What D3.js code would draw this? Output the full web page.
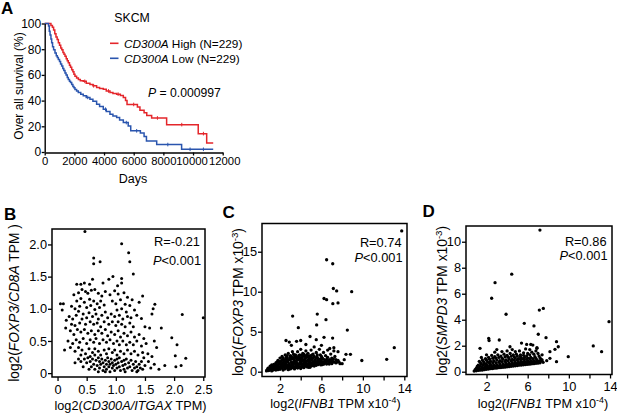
<!DOCTYPE html>
<html>
<head>
<meta charset="utf-8">
<script src="https://cdnjs.cloudflare.com/ajax/libs/d3/7.8.5/d3.min.js"></script>
<style>
  body { margin: 0; background: #fff; }
  text { font-family: Arial, "Liberation Sans", Helvetica, sans-serif; fill: #000; }
</style>
</head>
<body>
<svg id="fig" width="617" height="413"></svg>
<script>
// ---------- data ----------
var daysTicks = [0, 2000, 4000, 6000, 8000, 10000, 12000];
var survTicks = [0, 20, 40, 60, 80, 100];

// Kaplan-Meier steps [days, % surviving]
var kmHigh = [[0,100],[300,100],[420,98.5],[520,97],[600,95],[680,92],[760,89.5],[840,87.5],[920,85],
  [1000,83],[1080,81],[1150,79.5],[1230,77.5],[1300,76],[1370,74.5],[1450,72.5],[1520,71],[1590,69.5],
  [1670,67.5],[1740,66],[1820,64],[1900,62.5],[1970,60.5],[2040,59],[2150,57.5],[2270,56.5],[2400,55.5],
  [2600,55],[2800,53.5],[3050,52.5],[3250,51.5],[3500,50.2],[3700,49.5],[3950,48.8],[4150,47.5],
  [4400,46.3],[4600,45.5],[4850,45],[5100,44],[5300,42.5],[5450,40],[5550,37],[6250,35],[6420,32.5],
  [6700,30.5],[6880,28.5],[7210,26.5],[8220,21.3],[10350,14.3],[10920,7.1],[11360,7.1]];
var kmLow = [[0,100],[200,100],[260,98],[310,94],[360,91],[420,88],[470,85],[530,82],[600,79.5],
  [694,77],[780,75],[850,73.5],[918,72],[1000,70.5],[1070,68.5],[1145,67],[1220,65],[1290,63.5],
  [1368,61.5],[1440,60],[1520,58],[1590,56.5],[1670,55],[1740,54],[1820,52.5],[1900,51],[1970,50],
  [2040,48.7],[2150,47.5],[2265,46.3],[2430,45],[2600,43.7],[2800,42.5],[3050,41.1],[3250,39.5],
  [3500,37.2],[3700,35.5],[3950,33.3],[4150,31.5],[4400,29.4],[4600,28],[4850,26.8],[5050,25],
  [5300,22.9],[5630,20.3],[5800,16.5],[6450,14.8],[6700,12],[6860,8.5],[7550,5.8],[9230,2.1],[11360,2.1]];
var censorHigh = [2700, 3300, 4300, 4950, 6000, 7600, 9240, 10700];
var censorLow = [2900, 4100, 5500, 6200, 8300, 9800, 10700];

var bTicksX = [0, 0.5, 1, 1.5, 2, 2.5];
var bTicksY = [0, 0.5, 1, 1.5, 2];
var pointsB = [
  [0.47,2.2],[1.10,2.01],[1.22,1.87],[1.24,1.73],[0.62,1.79],[0.73,1.73],[0.62,1.70],[1.30,1.54],[0.88,1.46],
  [0.95,1.50],[1.10,1.47],[1.10,1.40],[0.60,1.46],[0.46,1.40],[0.40,1.38],[0.33,1.38],[0.55,1.38],[0.78,1.40],[1.03,1.36],
  [0.28,1.22],[0.36,1.25],[0.42,1.30],[0.48,1.27],[0.52,1.24],[0.58,1.29],[0.64,1.30],[0.70,1.24],[0.76,1.20],
  [0.82,1.27],[0.90,1.22],[0.98,1.28],[1.04,1.23],[1.14,1.25],[1.20,1.18],[1.28,1.14],[1.46,1.20],[1.40,1.10],
  [0.33,1.12],[0.40,1.16],[0.46,1.10],[0.55,1.15],[0.62,1.12],[0.68,1.08],[0.74,1.12],[0.80,1.06],[0.94,1.12],
  [1.00,1.08],[1.08,1.14],[1.16,1.07],[1.24,1.05],[0.05,1.08],[0.10,1.08],[0.24,1.04],[0.30,1.00],[0.38,1.04],
  [0.50,1.02],[0.57,1.05],[0.64,0.99],[0.72,1.02],[1.02,0.98],[1.10,1.00],[1.18,0.95],[1.32,0.98],[1.67,1.07],
  [1.64,1.00],[1.62,0.92],
  [0.08,0.98],[0.20,0.88],[0.26,0.84],[0.32,0.90],[0.36,0.96],[0.44,0.92],[0.50,0.86],[0.54,0.94],[0.60,0.88],
  [0.66,0.92],[0.70,0.84],[0.76,0.90],[0.82,0.95],[0.86,0.86],[0.92,0.92],[0.98,0.88],[1.06,0.90],[1.12,0.84],
  [1.20,0.88],[1.26,0.86],[1.36,0.90],[1.44,0.85],[0.15,0.82],[0.24,0.76],[0.30,0.74],[0.38,0.78],[0.42,0.84],
  [0.48,0.76],[0.56,0.80],[0.62,0.76],[0.68,0.78],[0.74,0.72],[0.80,0.80],[0.88,0.76],[0.94,0.80],[1.00,0.74],
  [1.04,0.80],[1.10,0.76],[1.16,0.72],[1.24,0.78],[1.30,0.72],[1.50,0.72],[1.58,0.70],[1.78,0.70],[2.14,0.91],[2.50,0.86],
  [0.14,0.70],[0.22,0.66],[0.28,0.60],[0.34,0.68],[0.40,0.64],[0.46,0.68],[0.52,0.62],[0.58,0.66],[0.64,0.60],
  [0.70,0.66],[0.76,0.62],[0.82,0.68],[0.86,0.58],[0.92,0.64],[0.98,0.60],[1.04,0.66],[1.08,0.56],[1.14,0.62],
  [1.20,0.58],[1.26,0.64],[1.32,0.56],[1.40,0.60],[1.48,0.54],[1.66,0.50],[1.96,0.55],[0.18,0.50],[0.26,0.46],
  [0.32,0.52],[0.38,0.48],[0.44,0.54],[0.50,0.46],[0.56,0.52],[0.62,0.48],[0.66,0.54],[0.72,0.46],[0.78,0.52],
  [0.84,0.48],[0.90,0.52],[0.96,0.46],[1.02,0.50],[1.06,0.44],[1.12,0.50],[1.18,0.44],[1.24,0.48],[1.30,0.44],
  [1.36,0.50],[1.44,0.42],[1.52,0.46],[1.70,0.40],[2.05,0.44],[0.12,0.36],[0.22,0.40],
  [0.30,0.34],[0.36,0.40],[0.42,0.36],[0.48,0.30],[0.54,0.38],[0.60,0.32],[0.64,0.38],[0.70,0.34],[0.74,0.28],
  [0.80,0.36],[0.84,0.30],[0.88,0.38],[0.94,0.32],[0.98,0.36],[1.02,0.28],[1.08,0.34],[1.14,0.30],[1.20,0.36],
  [1.26,0.30],[1.32,0.34],[1.38,0.28],[1.46,0.32],[1.55,0.30],[1.62,0.26],[2.02,0.27],[0.40,0.28],[0.56,0.26],
  [0.46,0.22],[0.50,0.16],[0.52,0.24],[0.56,0.18],[0.58,0.10],[0.60,0.22],[0.62,0.14],[0.64,0.06],[0.66,0.20],
  [0.68,0.12],[0.70,0.24],[0.72,0.18],[0.72,0.08],[0.74,0.14],[0.76,0.22],[0.78,0.04],[0.78,0.16],[0.80,0.10],
  [0.82,0.20],[0.84,0.14],[0.84,0.06],[0.86,0.24],[0.88,0.18],[0.88,0.10],[0.90,0.02],[0.90,0.14],[0.92,0.22],
  [0.94,0.08],[0.94,0.16],[0.96,0.12],[0.98,0.20],[0.98,0.04],[1.00,0.14],[1.02,0.22],[1.02,0.08],[1.04,0.16],
  [1.06,0.10],[1.06,0.24],[1.08,0.04],[1.10,0.18],[1.12,0.12],[1.14,0.20],[1.14,0.06],[1.16,0.14],[1.18,0.22],
  [1.20,0.08],[1.22,0.16],[1.24,0.10],[1.26,0.20],[1.28,0.04],[1.30,0.14],[1.32,0.08],[1.34,0.18],[1.36,0.10],
  [1.38,0.04],[1.40,0.14],[1.42,0.08],[1.44,0.18],[1.46,0.06],[1.50,0.12],[1.56,0.18],[1.60,0.08],[1.66,0.14],
  [1.74,0.06],[1.84,0.12],[2.03,0.10],[2.12,0.12],[2.20,0.23],[0.40,0.18],[0.44,0.10],[0.36,0.22],[0.30,0.16],
  [0.54,0.06],[0.64,0.28],[1.16,0.02],[1.36,0.02],[1.48,0.24],[0.82,0.02],[0.70,0.02]
];

var cdTicksX = [2, 4, 6, 8, 10, 12, 14];
var cdTickLabels = ['2', '', '6', '', '10', '', '14'];
var cTicksY = [0, 5, 10, 15];
var pointsC = [
  [13.75,17.6],[6.5,14.0],[7.09,13.5],[7.15,10.4],[7.47,10.1],[8.92,10.0],[6.25,9.15],[6.5,9.0],[7.1,8.5],
  [7.6,8.6],[3.22,6.95],[5.6,7.2],[5.54,5.85],[6.44,6.5],[3.77,5.5],[8.5,5.2],[13.03,3.0],[12.3,1.55],[9.9,1.4],
  [8.8,2.17],[8.37,2.17],[4.9,4.4],[6.25,4.3],[7.08,4.2],[2.58,3.9],[5.5,4.0],[6.0,3.3],[7.2,3.0],[7.6,2.5],
  [8.2,1.5],[7.8,1.0],[8.0,1.0],[7.4,1.5],[6.6,2.7],[5.3,3.1],[4.5,3.4],[3.6,3.8],[3.1,3.3],[4.0,3.9],[2.9,3.7],
  [0.7,0.1],[0.8,0.3],[0.9,0.15],[1.0,0.5],[1.0,0.2],[1.1,0.35],[1.2,0.7],[1.2,0.1],[1.3,0.45],[1.4,0.25],[1.4,0.9],[1.5,0.6],
  [1.6,0.2],[1.6,1.1],[1.7,0.4],[1.7,0.8],[1.8,1.4],[1.8,0.25],[1.9,0.6],[1.9,1.0],[2.0,0.3],[2.0,1.7],[2.1,0.8],
  [2.1,1.3],[2.2,0.45],[2.2,1.9],[2.3,0.2],[2.3,1.1],[2.4,0.7],[2.4,1.5],[2.5,0.35],[2.5,2.1],
  [2.6,0.9],[2.6,1.3],[2.7,0.5],[2.7,1.7],[2.8,0.25],[2.8,2.3],[2.9,1.0],[2.9,0.6],[3.0,1.5],[3.0,0.35],[3.0,2.0],
  [3.1,0.8],[3.1,1.2],[3.2,2.5],[3.2,0.5],[3.3,1.7],[3.3,0.95],[3.4,0.35],[3.4,1.4],[3.5,2.1],[3.5,0.7],
  [3.6,1.1],[3.6,1.8],[3.7,0.45],[3.7,2.5],[3.8,0.9],[3.8,1.5],[3.9,0.6],[3.9,2.1],[4.0,1.2],[4.0,0.4],[4.0,2.8],
  [4.1,1.7],[4.1,0.8],[4.2,2.3],[4.2,1.0],[4.3,0.5],[4.3,1.5],[4.4,2.0],[4.4,0.75],[4.5,1.2],[4.5,2.6],
  [4.6,0.6],[4.6,1.8],[4.7,1.0],[4.7,2.3],[4.8,0.8],[4.8,1.4],[4.9,0.55],[4.9,2.0],[5.0,1.1],[5.0,2.7],[5.1,0.75],
  [5.1,1.6],[5.2,1.2],[5.2,2.2],[5.3,0.7],[5.3,1.9],[5.4,1.0],[5.4,1.5],[5.5,0.8],[5.5,2.4],
  [5.6,1.2],[5.6,1.8],[5.7,0.9],[5.8,1.5],[5.8,2.8],[5.9,1.0],[5.9,2.1],[6.0,1.3],[6.1,0.9],[6.1,1.7],[6.2,2.4],
  [6.3,1.1],[6.3,1.5],[6.4,2.0],[6.5,0.95],[6.5,1.3],
  [6.6,1.8],[6.7,1.1],[6.8,1.5],[6.9,2.2],[7.0,1.0],[7.0,1.7],[7.1,1.3],[7.3,1.9],[7.4,1.1],[7.6,1.4],[7.2,2.6],[6.8,2.9],
  [1.3,0.2],[1.5,0.35],[1.9,0.4],[2.1,0.55],[2.3,0.65],[2.5,0.55],[2.7,0.8],[2.9,0.4],[3.1,0.45],[3.3,0.55],
  [3.5,1.0],[3.7,0.7],[3.9,1.1],[4.1,0.6],[4.3,0.9],[4.5,0.7],[4.7,0.7],[4.9,1.2],[5.1,1.0],[5.3,1.3],[5.5,1.1],
  [5.7,1.4],[6.0,1.1],[6.2,1.2],[2.0,1.2],[2.4,1.0],[2.8,1.4],[3.2,1.6],[3.6,1.4],[4.0,1.6],[4.4,1.4],[4.8,1.7],
  [5.2,1.7],[1.8,0.7],[2.2,1.5],[2.6,1.8],[3.0,1.8],[3.4,2.0],[3.8,2.0],[4.2,1.9],[4.6,2.1],[5.0,1.9],[5.6,2.1],
  [6.0,1.9],[3.2,1.1],[3.6,0.55],[4.4,1.0],[4.8,1.1],
  [0.75,0.2],[0.85,0.45],[0.95,0.3],[1.05,0.7],[1.15,0.5],[1.25,0.3],[1.35,0.65],[1.45,0.45],[1.55,0.8],
  [1.65,0.55],[1.75,0.3],[1.85,0.9],[1.95,1.25],[2.05,0.5],[2.15,1.0],[2.25,0.75],[2.35,1.35],[2.45,0.4],
  [2.55,1.1],[2.65,0.65],[2.75,1.2],[2.85,0.85],[2.95,1.65],[3.05,0.6],[3.15,1.0],[3.25,0.75],[3.35,1.25],
  [3.45,0.55],[3.55,1.2],[3.65,0.85],[3.75,1.7],[3.85,0.6],[3.95,1.35],[4.05,1.0],[4.15,1.4],[4.25,0.7],
  [4.35,1.2],[4.45,1.7],[4.55,0.9],[4.65,1.4],[4.75,0.55],[4.85,1.25],[4.95,0.9],[5.05,1.45],[5.15,0.9],
  [5.25,1.05],[5.35,0.85],[5.45,1.3],[5.55,0.95],[5.65,1.6],[5.75,1.1],[5.85,1.25],[5.95,0.85],[6.05,1.55],
  [6.15,1.05],[6.25,0.95],[6.35,1.3],[6.45,1.2],[6.55,1.6],[6.65,1.35],[6.75,0.95],[6.85,1.2],[6.95,1.4],
  [7.05,1.15],[7.15,1.6],[7.25,1.2],[7.5,1.2],[7.7,1.2],[2.3,1.7],[2.7,2.0],[3.1,1.9],[3.5,1.75],[3.9,1.8],
  [4.3,2.2],[4.7,1.95],[5.1,2.1],[5.5,1.75],[5.9,1.6],[3.3,2.2],[4.1,2.05],[4.9,1.6],[1.2,0.85],[1.7,1.2],[2.6,1.55]
];

var dTicksY = [0, 2, 4, 6, 8, 10];
var pointsD = [
  [7.19,10.9],[4.45,7.5],[2.83,6.85],[2.5,5.65],[3.9,4.42],[7.13,4.74],[7.52,4.87],[5.67,3.72],[6.61,3.52],
  [13.9,3.85],[12.37,1.98],[13.18,1.54],[9.94,1.16],[7.03,2.88],[7.78,2.62],[1.37,1.8],[2.21,2.57],[2.25,2.4],
  [3.24,2.44],[4.28,1.92],[8.8,2.31],[8.97,1.92],[8.65,1.72],[8.16,1.54],[8.16,1.03],[7.85,0.85],[8.8,0.77],
  [5.4,2.2],[5.9,2.1],[6.3,2.1],[6.9,1.8],[4.5,1.7],[7.4,0.9],
  [0.8,0.05],[1.0,0.07],[1.2,0.1],[1.4,0.12],[1.6,0.13],[1.8,0.16],[2.0,0.19],[2.2,0.2],[2.4,0.23],[2.6,0.24],
  [2.8,0.27],[3.0,0.28],[3.2,0.31],[3.4,0.32],[3.6,0.34],[3.8,0.35],[4.0,0.38],[4.2,0.39],[4.4,0.42],[4.6,0.43],
  [4.8,0.46],[5.0,0.47],[5.2,0.5],[5.4,0.51],[5.6,0.53],[5.8,0.55],[6.0,0.57],[6.2,0.58],[6.4,0.61],[6.6,0.62],
  [6.8,0.65],[7.0,0.66],[7.2,0.69],[7.5,0.72],
  [1.0,0.25],[1.3,0.3],[1.6,0.35],[1.9,0.4],[2.1,0.45],[2.4,0.5],[2.7,0.5],[3.0,0.55],[3.3,0.6],[3.6,0.6],
  [3.9,0.65],[4.2,0.65],[4.5,0.7],[4.8,0.72],[5.1,0.75],[5.4,0.78],[5.7,0.8],[6.0,0.82],[6.3,0.85],[6.6,0.85],
  [6.9,0.9],[7.3,0.95],
  [1.2,0.5],[1.5,0.6],[1.8,0.65],[2.1,0.75],[2.4,0.8],[2.7,0.85],[3.0,0.9],[3.3,0.85],[3.6,0.95],[3.9,0.9],
  [4.2,1.0],[4.5,0.95],[4.8,1.05],[5.1,1.0],[5.4,1.05],[5.7,1.1],[6.0,1.05],[6.3,1.1],[6.7,1.15],[7.1,1.2],
  [1.3,0.8],[1.6,0.9],[1.9,1.0],[2.2,1.1],[2.5,1.25],[2.8,1.15],[3.1,1.3],[3.4,1.2],[3.7,1.35],[4.0,1.25],
  [4.3,1.4],[4.6,1.3],[4.9,1.35],[5.3,1.3],[5.6,1.45],[6.0,1.4],[6.4,1.5],[6.8,1.6],[6.5,2.05],[6.9,1.85],
  [5.2,1.6],[3.5,1.55],[2.8,1.5],[2.0,1.3],[1.5,1.1],[4.0,1.6],[4.8,1.55],[3.0,1.7],[6.2,1.7],[5.8,1.75],
  [0.9,0.16],[1.1,0.19],[1.3,0.22],[1.5,0.21],[1.7,0.27],[1.9,0.29],[2.1,0.31],[2.3,0.34],[2.5,0.35],[2.7,0.38],
  [2.9,0.41],[3.1,0.42],[3.3,0.45],[3.5,0.45],[3.7,0.49],[3.9,0.51],[4.1,0.52],[4.3,0.55],[4.5,0.56],[4.7,0.59],
  [4.9,0.61],[5.1,0.62],[5.3,0.65],[5.5,0.66],[5.7,0.69],[5.9,0.7],[6.1,0.73],[6.3,0.72],[6.5,0.76],[6.7,0.78],
  [6.9,0.78],[7.1,0.81],[7.35,0.84],
  [1.1,0.4],[1.4,0.46],[1.7,0.52],[2.0,0.57],[2.3,0.63],[2.6,0.67],[2.9,0.7],[3.2,0.73],[3.5,0.78],[3.8,0.79],
  [4.1,0.84],[4.4,0.85],[4.7,0.88],[5.0,0.9],[5.3,0.93],[5.6,0.95],[5.9,0.96],[6.2,0.98],[6.5,1.01],[6.8,1.02],
  [7.2,1.06],[1.4,0.7],[1.7,0.78],[2.0,0.88],[2.3,0.96],[2.6,1.04],[2.9,1.06],[3.2,1.1],[3.5,1.05],[3.8,1.15],
  [4.1,1.12],[4.4,1.18],[4.7,1.14],[5.0,1.2],[5.3,1.16],[5.6,1.26],[5.9,1.22],[6.2,1.3],[6.6,1.35],[7.0,1.4],[7.4,1.3]
];

// ---------- drawing ----------
var svg = d3.select('#fig');
var FONT = 'Arial, "Liberation Sans", Helvetica, sans-serif';
var RED = '#e4262b', BLUE = '#2a55ae';

// text with italic / superscript pieces: [[str, 'i'|'sup'|'after'|'']]
function richText(sel, parts) {
  parts.forEach(function(p) {
    var t = sel.append('tspan').text(p[0]);
    if (p[1] === 'i') t.attr('font-style', 'italic');
    if (p[1] === 'sup') t.attr('font-size', '0.7em').attr('dy', -5);
    if (p[1] === 'after') t.attr('dy', 5);
  });
  return sel;
}

function styleAxis(g, size) {
  g.attr('font-family', FONT).attr('font-size', size);
  g.selectAll('line').attr('stroke', '#000').attr('stroke-width', 1.3);
  g.selectAll('path.domain').attr('stroke', '#000').attr('stroke-width', 1.4);
  g.selectAll('text').attr('fill', '#000');
}

function panelLetter(txt, x, y) {
  svg.append('text').attr('x', x).attr('y', y).attr('font-size', 17)
    .attr('font-weight', 'bold').text(txt);
}

// ----- panel A : survival -----
(function panelA() {
  var x = d3.scaleLinear().domain([0, 12000]).range([44.7, 222.7]);
  var y = d3.scaleLinear().domain([0, 100]).range([152, 23.5]);
  var g = svg.append('g');

  var line = d3.line().x(function(d) { return x(d[0]); })
    .y(function(d) { return y(d[1]); }).curve(d3.curveStepAfter);

  function survAt(km, t) {
    var v = km[0][1];
    km.forEach(function(d) { if (d[0] <= t) v = d[1]; });
    return v;
  }

  [[kmHigh, censorHigh, RED], [kmLow, censorLow, BLUE]].forEach(function(s) {
    g.append('path').attr('d', line(s[0])).attr('fill', 'none')
      .attr('stroke', s[2]).attr('stroke-width', 1.5);
    g.selectAll(null).data(s[1]).join('line')
      .attr('x1', function(d) { return x(d); }).attr('x2', function(d) { return x(d); })
      .attr('y1', function(d) { return y(survAt(s[0], d)) - 1.8; })
      .attr('y2', function(d) { return y(survAt(s[0], d)) + 1.8; })
      .attr('stroke', s[2]).attr('stroke-width', 1);
  });

  var xa = g.append('g').attr('transform', 'translate(0,152.5)')
    .call(d3.axisBottom(x).tickValues(daysTicks).tickSize(3).tickPadding(1.5)
      .tickSizeOuter(0).tickFormat(d3.format('d')));
  styleAxis(xa, 11.3);
  // the last two labels sit edge to edge, as in the original
  xa.selectAll('.tick text').attr('dx', function(d) {
    return d === 10000 ? -1.5 : d === 12000 ? 1.5 : 0;
  });
  var ya = g.append('g').attr('transform', 'translate(44.7,0)')
    .call(d3.axisLeft(y).tickValues(survTicks).tickSize(3).tickPadding(0.5).tickSizeOuter(0));
  styleAxis(ya, 12);

  g.append('text').attr('x', 133).attr('y', 182.5).attr('text-anchor', 'middle')
    .attr('font-size', 12.5).text('Days');
  g.append('text').attr('transform', 'translate(22.5,86) rotate(-90)')
    .attr('text-anchor', 'middle').attr('font-size', 12).text('Over all survival (%)');

  g.append('text').attr('x', 132).attr('y', 22).attr('text-anchor', 'middle')
    .attr('font-size', 12.3).text('SKCM');

  var legend = [['High (N=229)', RED, 43.3], ['Low (N=229)', BLUE, 58.3]];
  legend.forEach(function(l) {
    g.append('line').attr('x1', 110).attr('x2', 118.5).attr('y1', l[2]).attr('y2', l[2])
      .attr('stroke', l[1]).attr('stroke-width', 1.6);
    richText(g.append('text').attr('x', 124).attr('y', l[2] + 4.2).attr('font-size', 11.8),
      [['CD300A', 'i'], [' ' + l[0], '']]);
  });

  richText(g.append('text').attr('x', 148).attr('y', 97).attr('font-size', 12.2),
    [['P', 'i'], [' = 0.000997', '']]);
})();

// ----- scatter panels -----
function scatterPanel(o) {
  var x = d3.scaleLinear().domain(o.xDomain).range([o.left, o.right]);
  var y = d3.scaleLinear().domain(o.yDomain).range([o.bottom, o.top]);
  var g = svg.append('g');

  g.selectAll('circle').data(o.points).join('circle')
    .attr('cx', function(d) { return x(d[0]); })
    .attr('cy', function(d) { return y(d[1]); })
    .attr('r', o.r).attr('fill', '#000');

  g.append('rect').attr('x', o.left).attr('y', o.top)
    .attr('width', o.right - o.left).attr('height', o.bottom - o.top)
    .attr('fill', 'none').attr('stroke', '#000').attr('stroke-width', 1.5);

  var xa = g.append('g').attr('transform', 'translate(0,' + o.bottom + ')')
    .call(d3.axisBottom(x).tickValues(o.xTicks).tickSize(4).tickPadding(o.xPad)
      .tickSizeOuter(0).tickFormat(o.xFmt));
  xa.select('.domain').remove();
  styleAxis(xa, 12.8);

  var ya = g.append('g').attr('transform', 'translate(' + o.left + ',0)')
    .call(d3.axisLeft(y).tickValues(o.yTicks).tickSize(4).tickPadding(1)
      .tickSizeOuter(0).tickFormat(o.yFmt));
  ya.select('.domain').remove();
  styleAxis(ya, 12.8);

  richText(g.append('text').attr('x', (o.left + o.right) / 2 + o.xLabelShift)
      .attr('y', o.xLabelY).attr('text-anchor', 'middle').attr('font-size', 12.7), o.xLabel);
  richText(g.append('text').attr('transform', 'translate(' + o.yLabelX + ',' + o.yLabelCY + ') rotate(-90)')
      .attr('text-anchor', 'middle').attr('font-size', 13.8), o.yLabel);

  g.append('text').attr('x', o.statX).attr('y', o.statY).attr('text-anchor', 'end')
    .attr('font-size', 12.8).text(o.stats[0]);
  richText(g.append('text').attr('x', o.statX + 1).attr('y', o.statY + o.statGap)
      .attr('text-anchor', 'end').attr('font-size', 12.8), [['P', 'i'], [o.stats[1], '']]);
}

var oneDec = function(d) { return d === 0 ? '0' : d3.format('.1f')(d); };

scatterPanel({
  points: pointsB, r: 1.5, left: 52, right: 205, top: 229, bottom: 377,
  xDomain: [-0.095, 2.53], yDomain: [-0.06, 2.24],
  xTicks: bTicksX, yTicks: bTicksY, xFmt: oneDec, yFmt: oneDec, xPad: 4,
  xLabel: [['log2(', ''], ['CD300A/ITGAX', 'i'], [' TPM)', '']], xLabelY: 409.5, xLabelShift: 2,
  yLabel: [['log2(', ''], ['FOXP3/CD8A', 'i'], [' TPM )', '']], yLabelX: 19, yLabelCY: 303,
  stats: ['R=-0.21', '<0.001'], statX: 200, statY: 246, statGap: 19
});

scatterPanel({
  points: pointsC, r: 1.65, left: 262, right: 407, top: 223.5, bottom: 376.5,
  xDomain: [0.263, 14.26], yDomain: [-0.6, 18.53],
  xTicks: cdTicksX, yTicks: cTicksY, xPad: 3,
  xFmt: function(d, i) { return cdTickLabels[i]; }, yFmt: d3.format('d'),
  xLabel: [['log2(', ''], ['IFNB1', 'i'], [' TPM x10', ''], ['-4', 'sup'], [')', 'after']],
  xLabelY: 408, xLabelShift: 1,
  yLabel: [['log2(', ''], ['FOXP3', 'i'], [' TPM x10', ''], ['-3', 'sup'], [')', 'after']],
  yLabelX: 243, yLabelCY: 302,
  stats: ['R=0.74', '<0.001'], statX: 401.5, statY: 247, statGap: 14.5
});

scatterPanel({
  points: pointsD, r: 1.65, left: 466, right: 612, top: 226, bottom: 374.5,
  xDomain: [0.008, 14.19], yDomain: [-0.215, 11.21],
  xTicks: cdTicksX, yTicks: dTicksY, xPad: 3,
  xFmt: function(d, i) { return cdTickLabels[i]; }, yFmt: d3.format('d'),
  xLabel: [['log2(', ''], ['IFNB1', 'i'], [' TPM x10', ''], ['-4', 'sup'], [')', 'after']],
  xLabelY: 408, xLabelShift: 4,
  yLabel: [['log2(', ''], ['SMPD3', 'i'], [' TPM x10', ''], ['-3', 'sup'], [')', 'after']],
  yLabelX: 447, yLabelCY: 301,
  stats: ['R=0.86', '<0.001'], statX: 606.5, statY: 246, statGap: 13.5
});

panelLetter('A', 1, 14);
panelLetter('B', 4, 219.5);
panelLetter('C', 222.5, 218);
panelLetter('D', 422.5, 216.5);
</script>
</body>
</html>
